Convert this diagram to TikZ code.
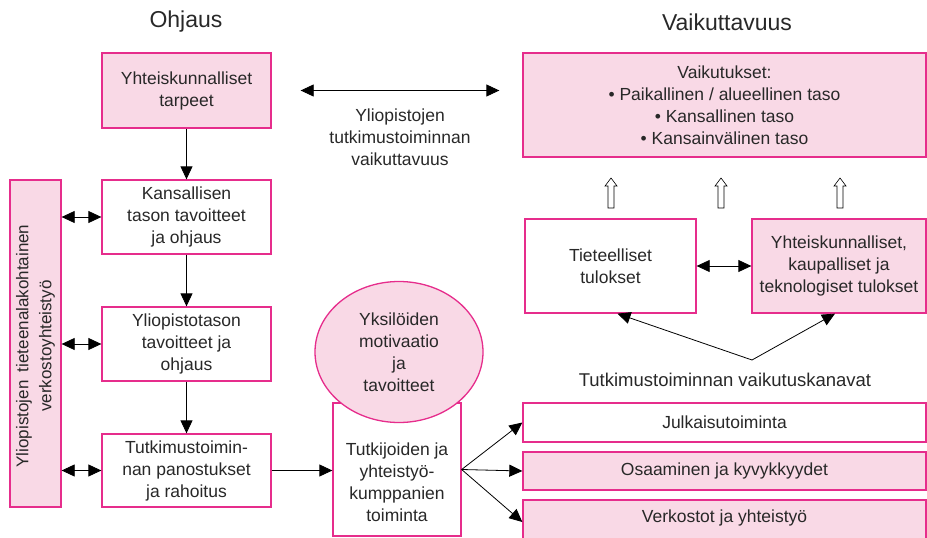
\documentclass[tikz,border=0pt]{standalone}
\usepackage{fontspec}
\setmainfont{Liberation Sans}
\usetikzlibrary{arrows.meta,shapes.geometric,calc}
\definecolor{pinkfill}{RGB}{249,217,230}
\definecolor{magborder}{RGB}{230,45,140}
\definecolor{txt}{RGB}{40,40,40}
\begin{document}
\begin{tikzpicture}[x=1pt,y=-1pt,
  font=\fontsize{17.5}{22}\selectfont, text=txt,
  box/.style={draw=magborder, line width=1.3pt, align=center, inner sep=2pt},
  pbox/.style={box, fill=pinkfill},
  wbox/.style={box, fill=white},
  title/.style={font=\fontsize{23}{26}\selectfont},
  plain/.style={align=center, inner sep=0pt},
  arr/.style={-{Triangle[length=13pt,width=12pt]}, line width=0.8pt},
  darr/.style={{Triangle[length=13pt,width=12pt]}-{Triangle[length=13pt,width=12pt]}, line width=0.8pt},
  uparrow/.pic={\draw[line width=0.6pt, fill=white] (-3,15) -- (-3,-7) -- (-6,-7) -- (0,-15) -- (6,-7) -- (3,-7) -- (3,15) -- cycle;}
]
\useasboundingbox (0,0) rectangle (927,538);

% titles
\node[title] (tOhj) at (186,22) {Ohjaus};
\node[title] (tVai) at (727,22) {Vaikuttavuus};

% left column
\node[pbox, minimum width=169, minimum height=75] (tarpeet) at (186.5,90.5) {Yhteiskunnalliset\\tarpeet};
\node[wbox, minimum width=169, minimum height=74] (kans) at (186.5,217) {Kansallisen\\tason tavoitteet\\ja ohjaus};
\node[wbox, minimum width=169, minimum height=74] (ylio) at (186.5,344) {Yliopistotason\\tavoitteet ja\\ohjaus};
\node[wbox, minimum width=169, minimum height=73] (tutk) at (186.5,470.5) {Tutkimustoimin-\\nan panostukset\\ja rahoitus};

% vertical network box
\node[pbox, minimum width=51, minimum height=327] (verk) at (35.5,343.5) {};
\node[plain, rotate=90, font=\fontsize{17}{23}\selectfont] (verkt) at (35.5,346) {Yliopistojen\enspace tieteenalakohtainen\\verkostoyhteistyö};

% researchers box and ellipse
\node[wbox, minimum width=128, minimum height=133] (tkb) at (397,469.5) {};
\node[plain] (tkt) at (397,482) {Tutkijoiden ja\\yhteistyö-\\kumppanien\\toiminta};
\node[ellipse, draw=magborder, fill=pinkfill, line width=1.3pt, minimum width=168, minimum height=141, inner sep=0pt, align=center] (yks) at (399,352) {Yksilöiden\\motivaatio\\ja\\tavoitteet};

% middle label
\node[plain] (vlab) at (400,137) {Yliopistojen\\tutkimustoiminnan\\vaikuttavuus};

% right side
\node[pbox, minimum width=403, minimum height=104] (vaik) at (724.5,105) {Vaikutukset:\\• Paikallinen / alueellinen taso\\• Kansallinen taso\\• Kansainvälinen taso};
\node[wbox, minimum width=171, minimum height=94] (tiet) at (610.5,266) {Tieteelliset\\tulokset};
\node[pbox, minimum width=174, minimum height=94] (yht) at (839,266) {Yhteiskunnalliset,\\kaupalliset ja\\teknologiset tulokset};
\node[plain, font=\fontsize{18.5}{22}\selectfont] (kanl) at (725,380) {Tutkimustoiminnan vaikutuskanavat};
\coordinate (kan) at (752,360);

\node[wbox, minimum width=403, minimum height=39] (jul) at (724.5,422.5) {Julkaisutoiminta};
\node[pbox, minimum width=403, minimum height=38] (osa) at (724.5,471) {Osaaminen ja kyvykkyydet};
\node[pbox, minimum width=403, minimum height=40] (ver) at (724.5,520) {};
\node[plain] (vert) at (724.5,518) {Verkostot ja yhteistyö};

% hollow arrows
\pic at (611,193) {uparrow};
\pic at (721,193) {uparrow};
\pic at (840,193) {uparrow};

% connectors
\draw[arr] (tarpeet) -- (kans);
\draw[arr] (kans) -- (ylio);
\draw[arr] (ylio) -- (tutk);
\draw[darr] (verk.east |- kans) -- (kans.west);
\draw[darr] (verk.east |- ylio) -- (ylio.west);
\draw[darr] (verk.east |- tutk) -- (tutk.west);
\draw[arr] (tutk.east) -- (tkb.west |- tutk.east);
\draw[darr] ([xshift=29pt]tarpeet.east) -- ([xshift=-23pt]tarpeet.east -| vaik.west);
\draw[darr] (tiet.east) -- (yht.west);
\draw[arr] (kan) -- ([xshift=7pt]tiet.south);
\draw[arr] (kan) -- ([xshift=-4pt]yht.south);
\draw[arr] (tkb.east) -- (jul.west);
\draw[arr] (tkb.east) -- (osa.west);
\draw[arr] (tkb.east) -- ([yshift=-2pt]ver.west);
\end{tikzpicture}
\end{document}
